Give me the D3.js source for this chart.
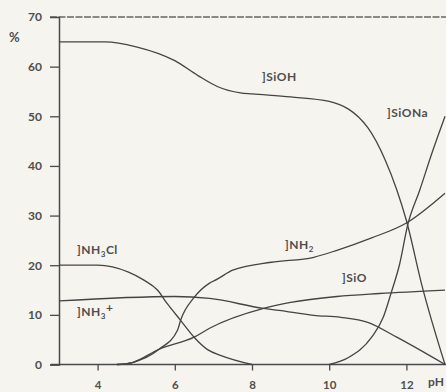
<!DOCTYPE html>
<html>
<head>
<meta charset="utf-8">
<script src="https://cdn.jsdelivr.net/npm/d3@7"></script>
<style>
  html, body { margin: 0; padding: 0; background: #f5f4ef; }
  svg { display: block; }
  text { font-family: Lato, "DejaVu Sans", sans-serif; font-weight: bold; fill: #4e4e4e; }
</style>
</head>
<body>
<div id="chart"></div>
<script>
// pH points and surface fractions (%)
const siohPH   = [3, 4.2, 5.0, 6.0, 6.6, 7.1, 7.7, 8.0, 9.0, 10.0, 11.0, 11.45, 11.75, 12.0, 12.4, 13];
const siohVal  = [65, 65, 64, 61.2, 58.2, 56, 54.7, 54.5, 53.9, 53, 47.7, 41.2, 35.2, 29, 16, 0];

const sionaPH  = [10, 10.5, 11.1, 11.4, 11.6, 11.83, 12.03, 12.34, 12.68, 13];
const sionaVal = [0, 1.4, 5.5, 9.5, 14.3, 20.4, 28, 35, 43, 50];

const nh3clPH  = [3, 4.0, 4.8, 5.2, 5.55, 5.8, 6.15, 6.5, 6.85, 7.2, 8.0];
const nh3clVal = [20, 20, 18.6, 17, 15, 12.3, 8.9, 5.5, 3.0, 1.8, 0];

const nh3pPH   = [3, 6.0, 6.9, 8.3, 8.7, 9.6, 10.3, 11.0, 11.75, 13];
const nh3pVal  = [12.8, 13.7, 13.3, 11.3, 10.9, 9.9, 9.5, 8.5, 5.5, 0];

const nh2PH    = [4.5, 4.9, 5.6, 6.07, 6.15, 6.5, 6.9, 7.1, 7.5, 8.5, 9.6, 10.2, 11.1, 12.0, 13];
const nh2Val   = [0, 0.4, 3.1, 6.9, 8.9, 13.5, 16.4, 17.2, 19, 20.6, 21.6, 23, 25.5, 28.5, 34.5];

const sioPH    = [4.5, 4.9, 5.6, 6.5, 6.9, 8.3, 9.0, 10.2, 11.3, 13];
const sioVal   = [0, 0.4, 3.1, 5.5, 7.3, 11.3, 12.5, 13.7, 14.3, 15];

const xTicks = [4, 6, 8, 10, 12];
const yTicks = [0, 10, 20, 30, 40, 50, 60, 70];

const series = [
  { ph: siohPH,  val: siohVal },
  { ph: sionaPH, val: sionaVal },
  { ph: nh3clPH, val: nh3clVal },
  { ph: nh3pPH,  val: nh3pVal },
  { ph: nh2PH,   val: nh2Val },
  { ph: sioPH,   val: sioVal }
];

const W = 446, H = 392;
const svg = d3.select('#chart').append('svg')
  .attr('width', W)
  .attr('height', H);

const x = d3.scaleLinear().domain([3, 13]).range([59, 445]);
const y = d3.scaleLinear().domain([0, 70]).range([364.5, 17]);

// dashed top border at 70
svg.append('line')
  .attr('x1', 50).attr('x2', W)
  .attr('y1', y(70)).attr('y2', y(70))
  .attr('stroke', '#666')
  .attr('stroke-width', 1.3)
  .attr('stroke-dasharray', '7,1.5');

// y axis
const yAxis = svg.append('g')
  .attr('transform', 'translate(' + x(3) + ',0)')
  .call(d3.axisLeft(y).tickValues(yTicks).tickSize(9).tickPadding(8));

// x axis
const xAxis = svg.append('g')
  .attr('transform', 'translate(0,' + y(0) + ')')
  .call(d3.axisBottom(x).tickValues(xTicks).tickSize(6).tickPadding(10));

[yAxis, xAxis].forEach(g => {
  g.select('.domain').attr('stroke', '#4a4a4a').attr('stroke-width', 1.5);
  g.selectAll('.tick line').attr('stroke', '#4a4a4a').attr('stroke-width', 1.3);
  g.selectAll('.tick text').attr('font-size', 12).attr('fill', '#4e4e4e')
    .attr('font-family', 'Lato, "DejaVu Sans", sans-serif').attr('font-weight', 'bold');
});
xAxis.selectAll('.tick text').attr('font-size', 11.5);
// x axis line extends a bit left of the y axis
xAxis.select('.domain').attr('d', 'M' + (x(3) - 8) + ',0H' + W);
yAxis.select('.tick:last-of-type line').remove();

// curves
const line = d3.line()
  .x(d => x(d[0]))
  .y(d => y(d[1]))
  .curve(d3.curveMonotoneX);

series.forEach(s => {
  svg.append('path')
    .datum(s.ph.map((p, i) => [p, s.val[i]]))
    .attr('fill', 'none')
    .attr('stroke', '#444')
    .attr('stroke-width', 1.3)
    .attr('d', line);
});

// axis titles
svg.append('text').attr('x', 9).attr('y', 42).attr('font-size', 13).text('%');
svg.append('text').attr('x', 428).attr('y', 386).attr('font-size', 12).text('pH');

// curve labels
function label(xp, yp, parts) {
  const t = svg.append('text').attr('x', xp).attr('y', yp).attr('font-size', 12).attr('letter-spacing', 0.5);
  parts.forEach(p => {
    const ts = t.append('tspan').text(p.t);
    if (p.sub) ts.attr('font-size', 8).attr('dy', 3);
    if (p.back) ts.attr('dy', p.back);
  });
}
label(262, 81, [{ t: ']SiOH' }]);
label(387, 117, [{ t: ']SiONa' }]);
label(77, 254, [{ t: ']NH' }, { t: '3', sub: true }, { t: 'Cl', back: -3 }]);
label(77, 316, [{ t: ']NH' }, { t: '3', sub: true }, { t: '+', back: -7 }]);
label(285, 249, [{ t: ']NH' }, { t: '2', sub: true }]);
label(342, 282, [{ t: ']SiO' }]);
</script>
</body>
</html>
